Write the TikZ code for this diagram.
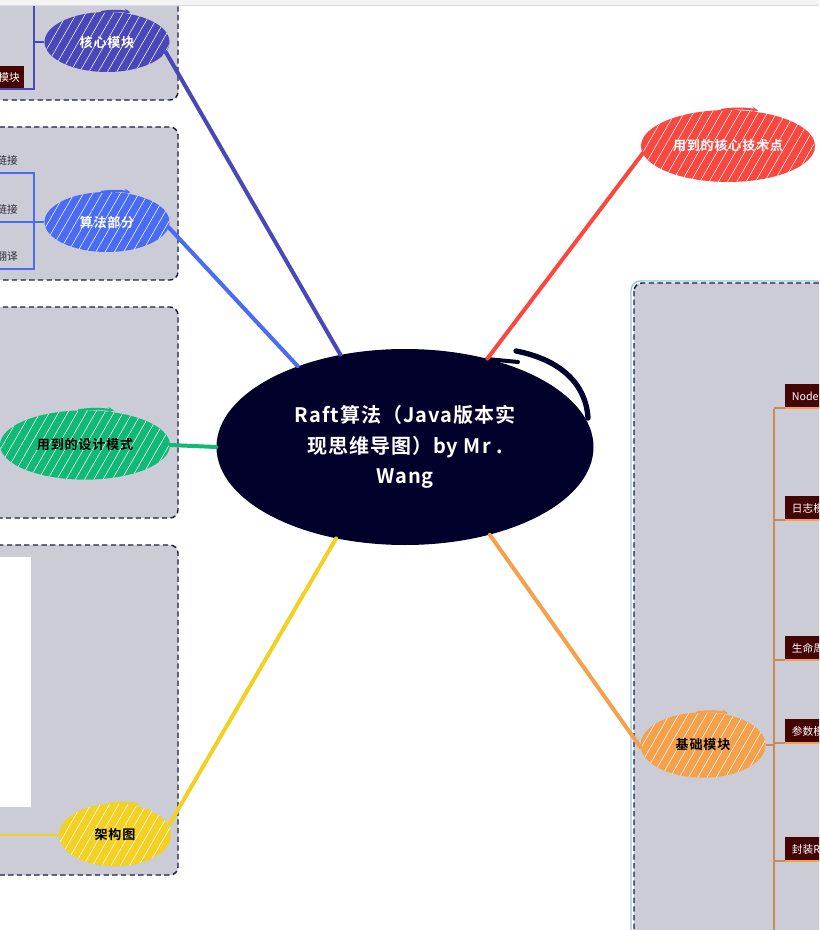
\documentclass[tikz,border=0pt]{standalone}
\usepackage{fontspec}
\setmainfont{Noto Sans CJK SC}[BoldFont={Noto Sans CJK SC Bold}]
\usetikzlibrary{shapes.geometric,patterns.meta,arrows.meta,calc}
\definecolor{cindigo}{HTML}{4A47B8}
\definecolor{cblue}{HTML}{4A6CF5}
\definecolor{cgreen}{HTML}{12B976}
\definecolor{cyellow}{HTML}{F2D024}
\definecolor{cred}{HTML}{F84840}
\definecolor{corange}{HTML}{F5A04A}
\definecolor{ccenter}{HTML}{00002A}
\definecolor{cpanel}{HTML}{CBCCD5}
\definecolor{cdash}{HTML}{1E1F3E}
\definecolor{cbox}{HTML}{450505}
\definecolor{cbrown}{HTML}{C98A5A}
\definecolor{cstrip}{HTML}{F3F3F3}
\definecolor{cstripline}{HTML}{DCDCDC}
\definecolor{cselect}{HTML}{8CC8F0}
\definecolor{ctext}{HTML}{2A2A3A}
\tikzset{
  blob/.style={ellipse, inner sep=0pt, font=\fontsize{9.8}{11}\selectfont\bfseries\addfontfeatures{LetterSpace=6},
    postaction={pattern={Lines[angle=60,distance=6pt,line width=0.4pt]}, pattern color=white, fill opacity=0.18}},
  panel/.style={fill=cpanel, draw=cdash, line width=1.1pt, dash pattern=on 4pt off 2.5pt, rounded corners=6pt},
  conn/.style={line width=3pt, line cap=round},
  bracket/.style={line width=1.1pt},
  rbox/.style={fill=cbox, text=white, anchor=south west, inner xsep=5pt, inner ysep=0pt,
    minimum height=17.5pt, text width=45pt, align=left, font=\fontsize{8}{9}\selectfont},
  lbl/.style={text=ctext, anchor=east, inner sep=0pt, font=\fontsize{8}{9}\selectfont},
  flick/.style={line width=1.6pt, line cap=round, -{Stealth[length=4.5pt,width=4pt]}}
}
\begin{document}
\begin{tikzpicture}[x=0.75pt,y=-0.75pt]
\useasboundingbox (0,0) rectangle (819,930);
\clip (0,0) rectangle (819,930);
\fill[white] (0,0) rectangle (819,930);

% panels
\draw[panel] (-20,-10) rectangle (178,100);
\draw[panel] (-20,127) rectangle (178,280);
\draw[panel] (-20,307) rectangle (178,518);
\draw[panel] (-20,545) rectangle (178,875);
\draw[cselect, line width=1pt, rounded corners=7pt] (631,281) rectangle (840,950);
\draw[panel] (634,283) rectangle (840,950);
\fill[white] (-5,557) rectangle (31,807);

% centre node
\node[ellipse, fill=ccenter, inner sep=0pt, minimum width=282.75pt, minimum height=147pt,
  text=white, align=center, font=\fontsize{15}{23}\selectfont\bfseries\addfontfeatures{LetterSpace=5}] (c) at (405,447)
  {Raft算法（Java版本实\\现思维导图）by Mr .\\Wang};
\draw[ccenter, line width=3pt, line cap=round] (487,359) -- (518,362);
\draw[ccenter, line width=4pt, line cap=round] (516,351) .. controls (562,360) and (586,385) .. (588,418);

% branch nodes
\node[blob, fill=cindigo, text=white, minimum width=93.75pt, minimum height=45pt] (n1) at (107,42) {核心模块};
\node[blob, fill=cblue, text=white, minimum width=93.75pt, minimum height=45pt] (n2) at (107,222) {算法部分};
\node[blob, fill=cgreen, text=black, minimum width=127.5pt, minimum height=52pt] (n3) at (85,445) {用到的设计模式};
\node[blob, fill=cyellow, text=black, minimum width=84pt, minimum height=47pt] (n4) at (115,835) {架构图};
\node[blob, fill=cred, text=white, minimum width=130.5pt, minimum height=54pt] (n5) at (728,146) {用到的核心技术点};
\node[blob, fill=corange, text=black, minimum width=93.75pt, minimum height=49pt] (n6) at (703,745) {基础模块};

% sketch flicks along the top-right edge of each branch node
\draw[flick, cindigo] (n1.100) to[bend left=8] ($(n1.52)+(1pt,1pt)$);
\draw[flick, cblue] (n2.100) to[bend left=8] ($(n2.52)+(1pt,1pt)$);
\draw[flick, cgreen] (n3.100) to[bend left=8] ($(n3.50)+(1pt,1pt)$);
\draw[flick, cyellow] (n4.100) to[bend left=8] ($(n4.52)+(1pt,1pt)$);
\draw[flick, cred] (n5.100) to[bend left=8] ($(n5.50)+(1pt,1pt)$);
\draw[flick, corange] (n6.100) to[bend left=8] ($(n6.52)+(1pt,1pt)$);

% connectors to the centre
\draw[conn, cindigo] (n1.-10) -- (c.125);
\draw[conn, cblue] (n2.-5) -- (c.143);
\draw[conn, cgreen] (n3.east) -- (c.180);
\draw[conn, cyellow] (n4.10) -- (c.233);
\draw[conn, cred] (n5.185) -- (c.47);
\draw[conn, corange] (n6.182) -- (c.314);

% panel 1 content
\node[fill=cbox, text=white, anchor=east, inner xsep=3pt, inner ysep=0pt, minimum height=16.5pt,
  font=\fontsize{8}{9}\selectfont] (m1) at (24,77) {模块};
\coordinate (b1top) at (34,-5);
\coordinate (b1bot) at (34,89);
\draw[bracket, cindigo] (b1top) -- (b1bot) -- (m1.south west |- b1bot);
\draw[bracket, cindigo] (n1.west) -- (n1.west -| b1top);

% panel 2 content
\node[lbl] (t1) at (18,160) {链接};
\node[lbl] (t2) at (18,209) {链接};
\node[lbl] (t3) at (18,256) {翻译};
\coordinate (b2top) at (34,173);
\coordinate (b2bot) at (34,269);
\coordinate (b2l1) at (-5,173);
\coordinate (b2l3) at (-5,269);
\draw[bracket, cblue] (b2l1) -- (b2top) -- (b2bot) -- (b2l3);
\draw[bracket, cblue] (n2.west) -- (n2.west -| -5,0);

% panel 4 content
\coordinate (y0) at (-5,835);
\draw[line width=1.5pt, cyellow] (y0) -- (n4.west |- y0);

% right panel boxes
\node[rbox] (r1) at (785,408) {Node};
\node[rbox] (r2) at (785,520) {日志模};
\node[rbox] (r3) at (785,660) {生命周};
\node[rbox] (r4) at (785,743) {参数模};
\node[rbox] (r5) at (785,861) {封装R};
\coordinate (vtop) at (774,409);
\coordinate (vbot) at (774,940);
\draw[line width=1.3pt, cbrown] (vtop) -- (vbot);
\foreach \b in {r1,r2,r3,r4,r5}{
  \draw[line width=1.1pt, cbrown] (\b.south west -| vtop) -- (\b.south west);
  \draw[line width=1.6pt, corange] (\b.south west) -- (\b.south east);
}
\draw[line width=1.1pt, cbrown] (n6.east) -- (n6.east -| vtop);

% top strip
\fill[cstrip] (0,0) rectangle (819,5);
\draw[cstripline, line width=0.8pt] (0,5.5) -- (819,5.5);
\end{tikzpicture}
\end{document}
